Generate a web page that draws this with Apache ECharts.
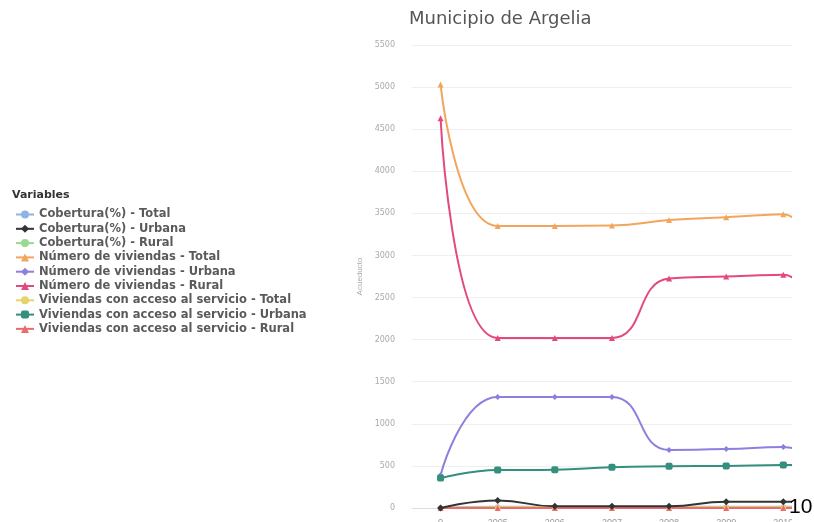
<!DOCTYPE html>
<html>
<head>
<meta charset="utf-8">
<script src="https://cdn.jsdelivr.net/npm/echarts@6/dist/echarts.min.js"></script>
<style>
  html, body { margin: 0; padding: 0; background: #fff; }
  #main { width: 814px; height: 522px; }
</style>
</head>
<body>
<div id="main"></div>
<script>
// categorias (años) y series
var anios = ['0', '2005', '2006', '2007', '2008', '2009', '2010', '2011'];

var coberturaTotal = [0, 15, 12, 12, 12, 15, 15, 15];
var coberturaUrbana = [0, 90, 20, 20, 20, 75, 75, 75];
var coberturaRural = [0, 3, 3, 3, 3, 3, 3, 3];
var viviendasTotal = [5030, 3350, 3350, 3355, 3420, 3455, 3490, 800];
var viviendasUrbana = [390, 1320, 1320, 1320, 690, 700, 725, 300];
var viviendasRural = [4630, 2020, 2020, 2020, 2725, 2750, 2770, 500];
var accesoTotal = [0, 8, 8, 8, 8, 8, 8, 8];
var accesoUrbana = [355, 450, 455, 485, 495, 500, 510, 510];
var accesoRural = [0, 0, 0, 0, 0, 0, 0, 0];

var myChart = echarts.init(document.getElementById('main'));

function serie(nombre, datos, color, simbolo, tam, z) {
  return {
    name: nombre,
    type: 'line',
    smooth: true,
    data: datos,
    symbol: simbolo,
    symbolSize: tam,
    showSymbol: true,
    z: z || 2,
    lineStyle: { width: 2, color: color },
    itemStyle: { color: color }
  };
}

var option = {
  animation: false,
  title: {
    text: 'Municipio de Argelia',
    left: 404,
    top: 5,
    textStyle: { fontSize: 18, fontWeight: 'normal', color: '#555', fontFamily: 'DejaVu Sans' }
  },
  legend: {
    orient: 'vertical',
    left: 10,
    top: 203,
    itemWidth: 18,
    itemHeight: 10,
    itemGap: 1.3,
    textStyle: { fontSize: 11.5, fontWeight: 'bold', color: '#5a5a5a', fontFamily: 'DejaVu Sans', lineHeight: 13 }
  },
  grid: {
    left: 412,
    width: 457,
    top: 45,
    bottom: 14,
    outerBoundsMode: 'none',
    containLabel: false
  },
  xAxis: {
    type: 'category',
    data: anios,
    boundaryGap: true,
    axisLine: { lineStyle: { color: '#ddd' } },
    axisTick: { lineStyle: { color: '#ddd' }, length: 6 },
    axisLabel: { color: '#999', fontSize: 9, margin: 10 }
  },
  yAxis: {
    type: 'value',
    min: 0,
    max: 5500,
    interval: 500,
    name: 'Acueducto',
    nameLocation: 'middle',
    nameGap: 18,
    nameTextStyle: { color: '#aaa', fontSize: 8 },
    axisLine: { show: false },
    axisTick: { show: false },
    axisLabel: {
      color: '#aaa', fontSize: 8, margin: 17, fontFamily: 'DejaVu Sans',
      formatter: function (v) { return String(v); }
    },
    splitLine: { lineStyle: { color: '#efefef' } }
  },
  graphic: [
    {
      type: 'text',
      left: 12,
      top: 190,
      style: { text: 'Variables', fontSize: 11, fontWeight: 'bold', fill: '#333', fontFamily: 'DejaVu Sans' }
    },
    {
      type: 'rect',
      shape: { x: 792, y: 30, width: 30, height: 500 },
      style: { fill: '#fff' },
      z: 100
    },
    {
      type: 'text',
      left: 789,
      top: 497,
      z: 101,
      style: { text: '10', fontSize: 21, fill: '#000', fontFamily: 'Liberation Sans' }
    }
  ],
  series: [
    serie('Cobertura(%) - Total', coberturaTotal, '#8fb3e3', 'circle', 5),
    serie('Cobertura(%) - Urbana', coberturaUrbana, '#333333', 'diamond', 7, 5),
    serie('Cobertura(%) - Rural', coberturaRural, '#98da8f', 'circle', 5),
    serie('Número de viviendas - Total', viviendasTotal, '#f2a55c', 'triangle', 6),
    serie('Número de viviendas - Urbana', viviendasUrbana, '#8b80dd', 'diamond', 6),
    serie('Número de viviendas - Rural', viviendasRural, '#e3487f', 'triangle', 6),
    serie('Viviendas con acceso al servicio - Total', accesoTotal, '#e8d26a', 'circle', 5),
    serie('Viviendas con acceso al servicio - Urbana', accesoUrbana, '#348f7c', 'roundRect', 7),
    serie('Viviendas con acceso al servicio - Rural', accesoRural, '#ec6b6b', 'triangle', 6)
  ]
};

myChart.setOption(option);
</script>
</body>
</html>
